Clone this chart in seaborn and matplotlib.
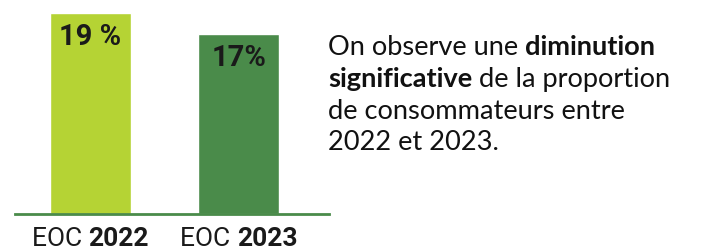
import matplotlib
matplotlib.use("Agg")
import pandas as pd
import seaborn as sns
import matplotlib.pyplot as plt
from matplotlib.offsetbox import TextArea, HPacker, AnnotationBbox

sns.set_theme(style="white")

# data
years = ["2022", "2023"]
prefix = "EOC"
values = [19, 17]
value_labels = ["19 %", "17%"]
colors = ["#b5d334", "#4a8b4a"]

df = pd.DataFrame({"year": years, "pct": values})

fig = plt.figure(figsize=(7.09, 2.52), dpi=100)
ax = fig.add_axes([15 / 709, 38 / 252, 314 / 709, 201 / 252])

sns.barplot(data=df, x="year", y="pct", hue="year", palette=colors,
            legend=False, width=0.547, saturation=1, ax=ax)

ax.set_xlim(-0.51, 1.61)
ax.set_ylim(0, 19)
ax.set_xlabel("")
ax.set_ylabel("")
ax.set_xticks([])
ax.set_yticks([])
for s in ["top", "left", "right"]:
    ax.spines[s].set_visible(False)
ax.spines["bottom"].set_color("#4a8b4a")
ax.spines["bottom"].set_linewidth(2)

# value labels inside the top of each bar
for i, (v, lab) in enumerate(zip(values, value_labels)):
    ax.annotate(lab, xy=(i, v), xytext=(0, -7), textcoords="offset points",
                ha="center", va="top", fontsize=21, fontweight="bold",
                color="#1a1a1a", family="Roboto")

# category labels: "EOC" regular + year bold
for i, y in enumerate(years):
    box = HPacker(children=[
        TextArea(prefix + " ", textprops=dict(fontsize=19, family="Roboto",
                                               color="#1a1a1a")),
        TextArea(y, textprops=dict(fontsize=19, family="Roboto",
                                   fontweight="bold", color="#1a1a1a")),
    ], align="baseline", pad=0, sep=0)
    ab = AnnotationBbox(box, (i, 0), xybox=(0, -9), xycoords="data",
                        boxcoords="offset points", box_alignment=(0.5, 1),
                        frameon=False, annotation_clip=False)
    ax.add_artist(ab)

# comment text on the right, with bold fragments
lines = [
    [("On observe une ", "normal"), ("diminution", "bold")],
    [("significative", "bold"), (" de la proportion", "normal")],
    [("de consommateurs entre", "normal")],
    [("2022 et 2023.", "normal")],
]
x0 = 328 / 709
y_top = 1 - 35 / 252
step = 31.8 / 252
for k, parts in enumerate(lines):
    prev = None
    for txt, w in parts:
        kw = dict(fontsize=19.6, family="Lato", fontweight=w, color="#111111",
                  va="top")
        if prev is None:
            prev = fig.text(x0, y_top - k * step, txt, ha="left", **kw)
        else:
            prev = fig.text(0, 0, txt, ha="left", **kw)
            fig.canvas.draw()
            bb = fig.texts[-2].get_window_extent()
            prev.set_position((bb.x1 / fig.bbox.width, y_top - k * step))

fig.savefig("out.png", dpi=100)
